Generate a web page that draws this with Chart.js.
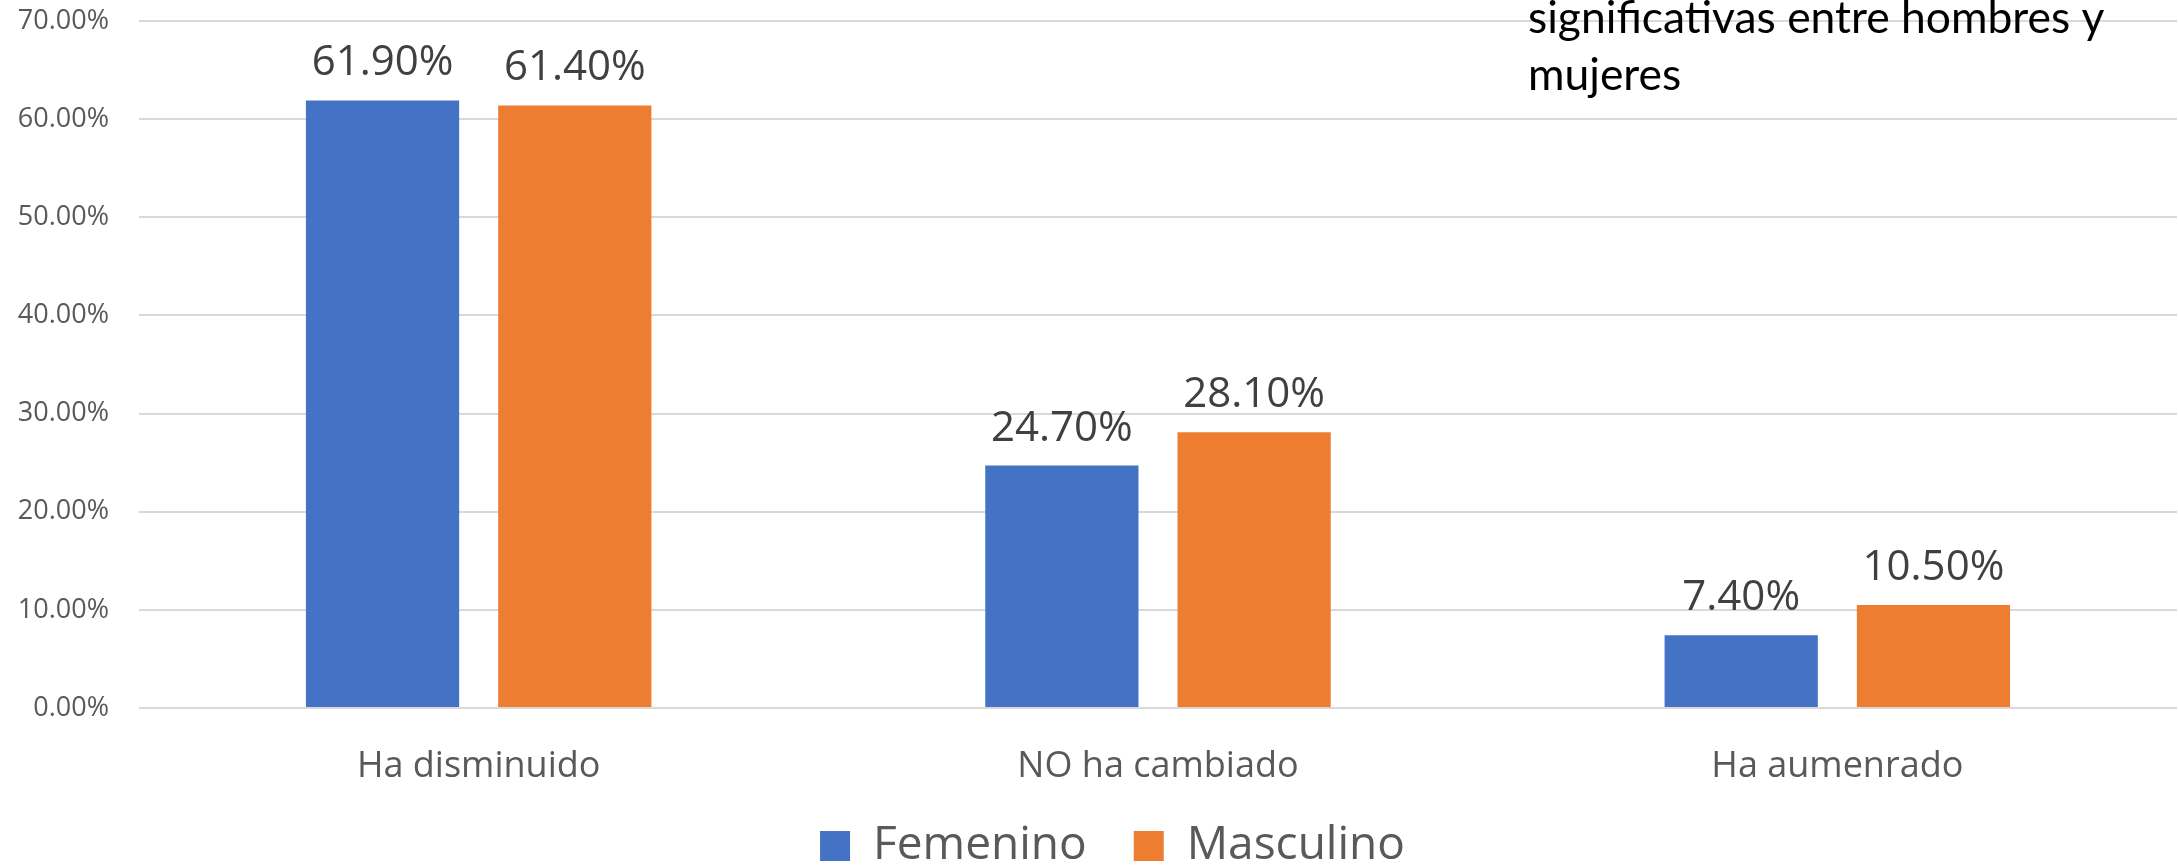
<!DOCTYPE html>
<html>
<head>
<meta charset="utf-8">
<script src="https://cdn.jsdelivr.net/npm/chart.js@4"></script>
<style>
  html, body { margin: 0; padding: 0; background: #ffffff; overflow: hidden; }
  #wrap { width: 2178px; height: 865px; position: relative; }
</style>
</head>
<body>
<div id="wrap"><canvas id="c" width="2178" height="865"></canvas></div>
<script>
const categories = ["Ha disminuido", "NO ha cambiado", "Ha aumenrado"];
const seriesNames = ["Femenino", "Masculino"];
const femenino = [61.9, 24.7, 7.4];
const masculino = [61.4, 28.1, 10.5];
const noteLines = ["significativas entre hombres y", "mujeres"];

const valueLabels = {
  id: 'valueLabels',
  afterDatasetsDraw(chart) {
    const ctx = chart.ctx;
    ctx.save();
    ctx.font = '42px "Open Sans"';
    ctx.fillStyle = '#404040';
    ctx.textAlign = 'center';
    ctx.textBaseline = 'alphabetic';
    chart.data.datasets.forEach((ds, di) => {
      const meta = chart.getDatasetMeta(di);
      meta.data.forEach((bar, i) => {
        ctx.fillText(ds.data[i].toFixed(2) + '%', bar.x, bar.y - 25);
      });
    });
    ctx.restore();
  }
};

const note = {
  id: 'note',
  afterDraw(chart) {
    const ctx = chart.ctx;
    ctx.save();
    ctx.fillStyle = '#000000';
    ctx.textAlign = 'left';
    ctx.textBaseline = 'alphabetic';
    ctx.font = '40px Lato';
    const w = ctx.measureText(noteLines[0]).width;
    const size = 40 * 577 / w;
    ctx.font = size.toFixed(1) + 'px Lato';
    ctx.fillText(noteLines[0], 1528, 33);
    ctx.fillText(noteLines[1], 1528, 90);
    ctx.restore();
  }
};

const shiftLegend = {
  id: 'shiftLegend',
  afterLayout(chart) {
    if (chart.legend) {
      chart.legend.top += 14;
      chart.legend.bottom += 14;
      chart.legend.left += 24;
      chart.legend.right += 24;
    }
    if (chart.scales.x) {
      chart.scales.x.bottom = chart.height;
    }
  }
};

new Chart(document.getElementById('c'), {
  type: 'bar',
  data: {
    labels: categories,
    datasets: [
      { label: seriesNames[0], data: femenino, backgroundColor: '#4472C4', borderWidth: 0,
        categoryPercentage: 0.566, barPercentage: 0.797 },
      { label: seriesNames[1], data: masculino, backgroundColor: '#ED7D31', borderWidth: 0,
        categoryPercentage: 0.566, barPercentage: 0.797 }
    ]
  },
  options: {
    responsive: false,
    animation: false,
    layout: { padding: { top: 21, right: 1, left: 0, bottom: 0 } },
    plugins: {
      legend: {
        position: 'bottom',
        labels: {
          boxWidth: 30, boxHeight: 30, padding: 47,
          color: '#595959',
          font: { family: 'Open Sans', size: 46 }
        }
      },
      tooltip: { enabled: false }
    },
    scales: {
      x: {
        grid: { display: false, drawTicks: false },
        border: { display: false },
        ticks: { color: '#595959', font: { family: 'Open Sans', size: 36 }, padding: 37, maxRotation: 0 },
        afterFit(scale) { scale.height = 54; scale.paddingLeft = 0; scale.paddingRight = 0; }
      },
      y: {
        min: 0, max: 70,
        ticks: {
          stepSize: 10, padding: 30, color: '#595959',
          font: { family: 'Open Sans', size: 27 },
          callback: (v) => v.toFixed(2) + '%'
        },
        grid: { color: '#d9d9d9', lineWidth: 2, drawTicks: false },
        border: { display: false },
        afterFit(scale) { scale.width = 139; scale.paddingTop = 0; scale.paddingBottom = 0; }
      }
    }
  },
  plugins: [valueLabels, note, shiftLegend]
});
</script>
</body>
</html>
